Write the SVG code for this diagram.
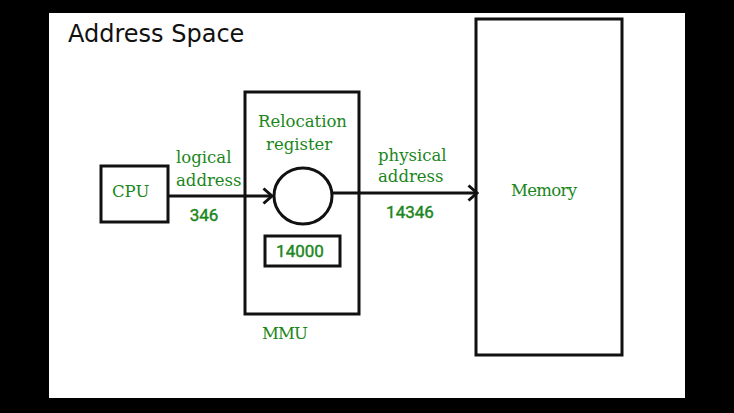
<svg xmlns="http://www.w3.org/2000/svg" width="734" height="413" viewBox="0 0 734 413">
<style>
.box{fill:none;stroke:#111;stroke-width:3}
.ln{fill:none;stroke:#111;stroke-width:3}
.lbl{font-family:"DejaVu Serif","Liberation Serif",serif;font-size:16.5px;fill:#1b861b}
.num{font-family:Roboto,"Liberation Sans",sans-serif;font-size:17px;font-weight:normal;fill:#1b861b;stroke:#1b861b;stroke-width:0.4}
.title{font-family:"DejaVu Sans",sans-serif;font-size:24px;fill:#111}
</style>
<defs>
<marker id="chev" viewBox="0 0 12 18" refX="10" refY="9" markerWidth="12" markerHeight="18" markerUnits="userSpaceOnUse" orient="auto">
<path d="M1.5,1.5 L10,9 L1.5,16.5" fill="none" stroke="#111" stroke-width="3"/>
</marker>
</defs>
<rect x="0" y="0" width="734" height="413" fill="#000"/>
<rect x="49" y="13" width="636" height="385" fill="#fff"/>
<text class="title" x="68" y="42">Address Space</text>
<g id="cpu">
<rect class="box" x="101" y="166" width="67" height="56"/>
<text class="lbl" x="112" y="197">CPU</text>
</g>
<g id="mmu">
<rect class="box" x="245" y="92" width="114" height="222"/>
<text class="lbl" x="262" y="339" textLength="46">MMU</text>
</g>
<g id="relocation-register">
<text class="lbl" x="258" y="127" textLength="89">Relocation</text>
<text class="lbl" x="266" y="150">register</text>
<ellipse class="box" cx="303" cy="196" rx="29" ry="28"/>
</g>
<g id="reg-value">
<rect class="box" x="265" y="236" width="75" height="30"/>
<text class="num" x="300" y="257" text-anchor="middle">14000</text>
</g>
<g id="memory">
<rect class="box" x="476" y="19" width="146" height="336"/>
<text class="lbl" x="511" y="196" textLength="66">Memory</text>
</g>
<g id="connectors">
<line class="ln" x1="168" y1="196" x2="272" y2="196" marker-end="url(#chev)"/>
<line class="ln" x1="332" y1="193" x2="477" y2="193" marker-end="url(#chev)"/>
<text class="lbl" x="176" y="163">logical</text>
<text class="lbl" x="176" y="186">address</text>
<text class="num" x="204" y="221" text-anchor="middle">346</text>
<text class="lbl" x="378" y="161">physical</text>
<text class="lbl" x="378" y="182">address</text>
<text class="num" x="410" y="218" text-anchor="middle">14346</text>
</g>
</svg>
